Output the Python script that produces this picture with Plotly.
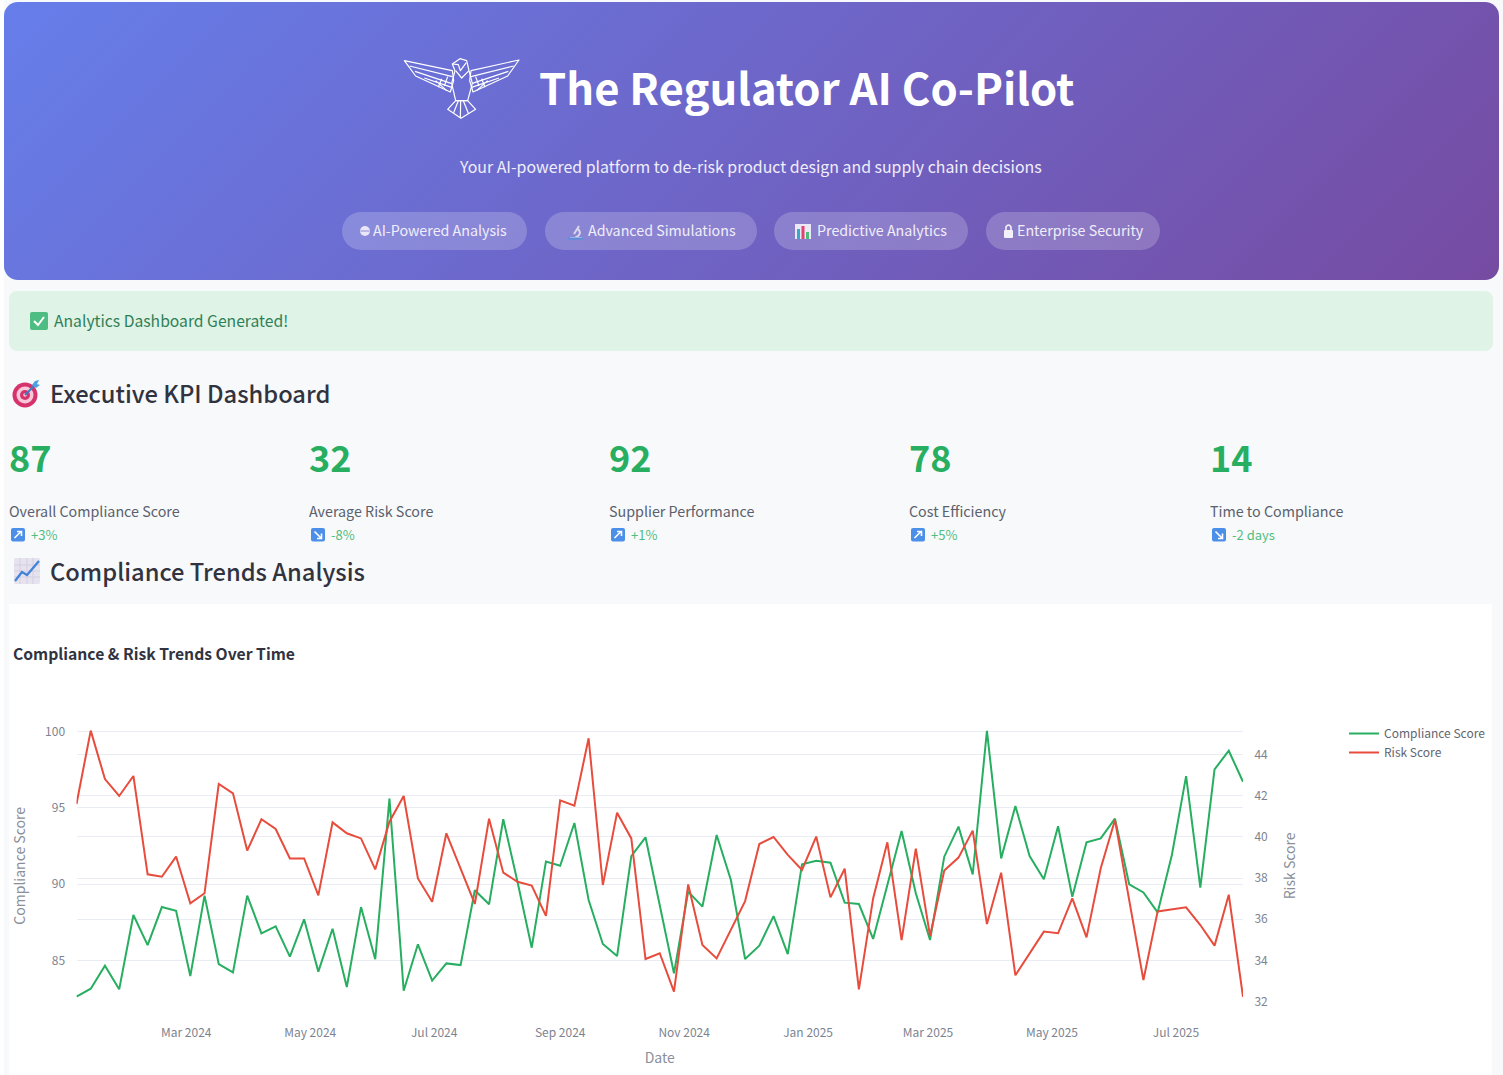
import base64
import pandas as pd
import plotly.graph_objects as go

W, H = 1503, 1075
FONT = "Noto Sans CJK SC, Noto Sans, sans-serif"

start_date = "2024-01-07"
compliance = [82.62,83.14,84.65,83.10,87.97,86.00,88.49,88.25,83.97,89.24,84.76,84.21,89.24,86.77,87.23,85.24,87.69,84.26,87.07,83.25,88.49,85.07,95.59,83.01,86.05,83.67,84.80,84.69,89.59,88.67,94.24,90.15,85.83,91.48,91.20,94.00,88.95,86.07,85.28,91.83,93.06,88.58,84.15,89.50,88.52,93.21,90.26,85.09,85.96,87.90,85.41,91.29,91.53,91.40,88.78,88.69,86.40,89.93,93.47,89.39,86.33,91.79,93.76,90.63,100.04,91.68,95.11,91.83,90.31,93.78,89.17,92.73,92.99,94.28,89.98,89.45,88.14,91.90,97.07,89.76,97.51,98.73,96.70]
risk = [41.59,45.15,42.80,41.98,42.95,38.18,38.06,39.04,36.77,37.26,42.56,42.11,39.33,40.85,40.38,38.95,38.95,37.16,40.70,40.17,39.92,38.42,40.73,41.98,37.98,36.85,40.17,38.42,36.74,40.88,38.26,37.82,37.63,36.16,41.77,41.51,44.78,37.66,41.17,39.92,34.07,34.35,32.49,37.69,34.75,34.10,35.51,36.88,39.65,39.99,39.12,38.39,40.01,37.06,38.45,32.60,37.01,39.73,34.99,39.42,35.19,38.36,38.99,40.30,35.77,38.26,33.28,34.35,35.40,35.32,37.01,35.12,38.47,40.81,36.93,33.05,36.38,36.48,36.58,35.72,34.72,37.19,32.24]
kpi_values = ["87", "32", "92", "78", "14"]
kpi_labels = ["Overall Compliance Score", "Average Risk Score", "Supplier Performance", "Cost Efficiency", "Time to Compliance"]
kpi_deltas = ["+3%", "-8%", "+1%", "+5%", "-2 days"]
kpi_up = [True, False, True, True, False]
pill_labels = ["AI-Powered Analysis", "Advanced Simulations", "Predictive Analytics", "Enterprise Security"]
dates = pd.date_range(start_date, periods=len(compliance), freq="7D")

kpi_x = [10, 310, 610, 910, 1211]
pill_boxes = [(342, 527), (545, 757), (774, 968), (986, 1160)]
pill_text_x = [371, 586, 815, 1015]


def arrow_box(x, up):
    y = 528
    a = f'<rect x="{x}" y="{y}" width="14" height="13.5" rx="2" fill="#4b8fe8"/>'
    if up:
        a += f'<path d="M{x+3.5} {y+10}L{x+10} {y+3.5}M{x+6} {y+3.5}H{x+10.5}V{y+8}" stroke="#fff" stroke-width="1.6" fill="none"/>'
    else:
        a += f'<path d="M{x+3.5} {y+3.5}L{x+10} {y+10}M{x+10.5} {y+5.5}V{y+10.5}H{x+6}" stroke="#fff" stroke-width="1.6" fill="none"/>'
    return a


eagle = """
<g transform="translate(395,50) scale(0.3333)" fill="none" stroke="#ffffff" stroke-width="3.6" stroke-linejoin="round">
<path d="M28 32L172 62L176 92L166 126L62 78Z"/>
<path d="M44 48L172 80M60 64L168 100M88 84L170 112M122 92L155 122M140 86L130 112M158 80L148 108"/>
<path d="M372 30L228 62L224 92L234 126L338 78Z"/>
<path d="M356 48L228 80M340 64L232 100M312 84L230 112M278 92L245 122M260 86L270 112M242 80L252 108"/>
<path d="M172 42L195 26L215 32L222 62L232 100L218 152H182L170 100L180 62Z"/>
<path d="M172 42L190 44L196 62L214 38M182 62L200 84L222 62"/>
<path d="M182 152L158 178L198 205L242 178L218 152Z"/>
<path d="M190 152L176 188M197 152L196 204M205 152L220 190"/>
</g>"""

emoji = """
<circle cx="25" cy="395" r="12.5" fill="#d6336c"/><circle cx="25" cy="395" r="8.5" fill="#f8c8d8"/>
<circle cx="25" cy="395" r="5" fill="#d6336c"/><circle cx="25" cy="395" r="1.8" fill="#f8c8d8"/>
<path d="M25 395L36 384" stroke="#3b7dc4" stroke-width="2"/><path d="M32 385L35 381L39 380L37 384L40 385L36 388Z" fill="#4ba3e3"/>
<rect x="14" y="558" width="26" height="26" rx="2" fill="#e6e2ee"/>
<path d="M14 565H40M14 571H40M14 577H40M20 558V584M27 558V584M33 558V584" stroke="#cfc9de" stroke-width="0.7"/>
<path d="M15 581L22 572L27 575L39 561" stroke="#3f82d8" stroke-width="2.2" fill="none"/>
"""

pill_icons = """
<circle cx="365" cy="231" r="5" fill="#e8e6f7"/><path d="M360.5 231H369.5" stroke="#8f87d2" stroke-width="1"/>
<path d="M570 238H582M574 234L579 226M575 238Q583 234 578 229" stroke="#d9d6ee" stroke-width="2" fill="none"/><path d="M568 238.5H583" stroke="#5b8fd9" stroke-width="2"/>
<rect x="795" y="224" width="16" height="15" fill="#ece9f6"/><rect x="797" y="229" width="3" height="10" fill="#38a7c9"/><rect x="801.5" y="226" width="3" height="13" fill="#e0456f"/><rect x="806" y="232" width="3" height="7" fill="#4bbf7a"/>
<rect x="1004" y="230" width="9" height="8" rx="1" fill="#f3f1fa"/><path d="M1006 230V227Q1008.5 223 1011 227V230" stroke="#f3f1fa" stroke-width="1.6" fill="none"/>
"""

bg = f"""<svg xmlns="http://www.w3.org/2000/svg" width="{W}" height="{H}" viewBox="0 0 {W} {H}">
<defs><linearGradient id="g" gradientUnits="userSpaceOnUse" x1="308" y1="-302" x2="1195" y2="584">
<stop offset="0" stop-color="#667eea"/><stop offset="1" stop-color="#764ba2"/></linearGradient></defs>
<rect x="0" y="0" width="{W}" height="{H}" fill="#ffffff"/>
<rect x="4" y="0" width="{W-4}" height="{H}" fill="#f8f9fb"/>
<rect x="4" y="2" width="1495" height="278" rx="14" fill="url(#g)"/>
{''.join(f'<rect x="{a}" y="212" width="{b-a}" height="38" rx="19" fill="#ffffff" fill-opacity="0.2"/>' for a, b in pill_boxes)}
<rect x="9" y="291" width="1484" height="60" rx="8" fill="#e0f3e7"/>
<rect x="30" y="312" width="18" height="18" rx="2" fill="#4dbd84"/>
<path d="M34 321L38 325L44 317" stroke="#fff" stroke-width="2" fill="none"/>
<rect x="9" y="604" width="1483" height="471" fill="#ffffff"/>
{eagle}{emoji}{pill_icons}
{''.join(arrow_box(x + 1, u) for x, u in zip(kpi_x, kpi_up))}
</svg>"""
bg_uri = "data:image/svg+xml;base64," + base64.b64encode(bg.encode()).decode()


def px(x):
    return x / W


def py(y):
    return 1 - y / H


def text(x, y, s, size, color, weight=400, anchor="left"):
    return dict(x=px(x), y=py(y), xref="paper", yref="paper", text=s, showarrow=False,
                xanchor=anchor, yanchor="middle", align=anchor,
                font=dict(family=FONT, size=size, color=color, weight=weight))


ann = [
    text(537, 86, "The Regulator AI Co-Pilot", 43.6, "#ffffff", 700),
    text(750.5, 166.5, "Your AI-powered platform to de-risk product design and supply chain decisions", 15.9, "#f0eefa", 400, "center"),
    text(52, 320, "Analytics Dashboard Generated!", 15.7, "#2f7f55"),
    text(48, 393, "Executive KPI Dashboard", 23.7, "#31333f", 500),
    text(48, 570.5, "Compliance Trends Analysis", 23.7, "#31333f", 500),
]
for s, x in zip(pill_labels, pill_text_x):
    ann.append(text(x, 229, s, 14.25, "#f0eefa"))
for i, x in enumerate(kpi_x):
    ann.append(text(x - 3, 456, kpi_values[i], 36, "#27ae60", 700))
    ann.append(text(x - 3, 510, kpi_labels[i], 14.3, "#5a606c"))
    ann.append(text(x + 19, 534, kpi_deltas[i], 13, "#52bd80"))

fig = go.Figure()
fig.add_trace(go.Scatter(x=dates, y=compliance, name="Compliance Score", mode="lines",
                         line=dict(color="#27ae60", width=2), yaxis="y"))
fig.add_trace(go.Scatter(x=dates, y=risk, name="Risk Score", mode="lines",
                         line=dict(color="#e74c3c", width=2), yaxis="y2"))

tick_font = dict(family=FONT, size=12, color="#7d8390")
title_font = dict(family=FONT, size=14, color="#8a8f9a")
grid = "#e9ecf2"
fig.update_layout(
    width=W, height=H, autosize=False,
    margin=dict(l=0, r=0, t=0, b=0, autoexpand=False),
    paper_bgcolor="#ffffff", plot_bgcolor="rgba(0,0,0,0)",
    font=dict(family=FONT),
    title=dict(text="Compliance & Risk Trends Over Time", x=px(13), xref="paper", xanchor="left",
               y=py(654.5), yref="paper", yanchor="middle", automargin=False,
               font=dict(family=FONT, size=15.7, color="#31333f", weight=700)),
    xaxis=dict(domain=[px(76.5), px(1243)], type="date", range=[dates[0], dates[-1]], automargin=False,
               tick0="2024-03-01", dtick="M2", tickformat="%b %Y", showgrid=False, zeroline=False,
               ticks="outside", ticklen=20, tickcolor="rgba(0,0,0,0)", tickfont=tick_font,
               title=dict(text="Date", font=title_font, standoff=14)),
    yaxis=dict(domain=[1 - 1001.7 / H, 1 - 730 / H], range=[82.29, 100.09], tickvals=[85, 90, 95, 100],
               automargin=False, gridcolor=grid, zeroline=False, ticks="outside", ticklen=8,
               tickcolor="rgba(0,0,0,0)", tickfont=tick_font,
               title=dict(text="Compliance Score", font=title_font, standoff=16)),
    yaxis2=dict(overlaying="y", side="right", anchor="x", range=[32, 45.18], automargin=False,
                tickvals=[32, 34, 36, 38, 40, 42, 44], gridcolor=grid, zeroline=False,
                ticks="outside", ticklen=8, tickcolor="rgba(0,0,0,0)", tickfont=tick_font,
                title=dict(text="Risk Score", font=title_font, standoff=18)),
    legend=dict(x=px(1344), y=py(719), xanchor="left", yanchor="top", bgcolor="rgba(0,0,0,0)",
                font=dict(family=FONT, size=12, color="#5f6570")),
    images=[dict(source=bg_uri, xref="paper", yref="paper", x=0, y=1, sizex=1, sizey=1,
                 xanchor="left", yanchor="top", sizing="stretch", layer="below")],
    annotations=ann,
)
fig.write_html("out.html", config={"displayModeBar": False},
               post_script="document.body.style.margin='0';")
